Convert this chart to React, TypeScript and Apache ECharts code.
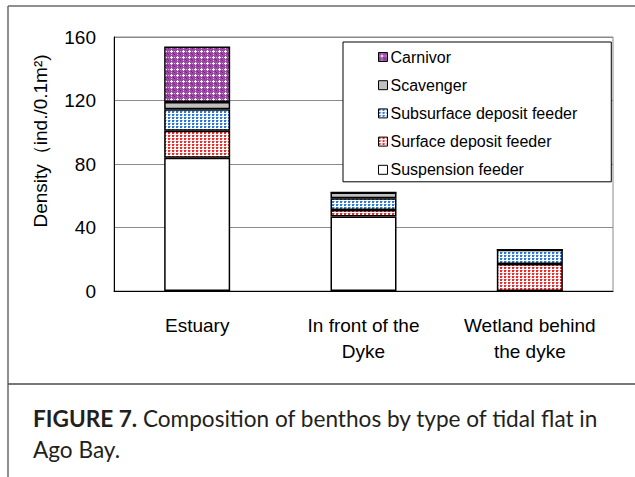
import React, { useEffect, useRef } from "react";
import * as echarts from "echarts";

const categories = ["Estuary", "In front of the\nDyke", "Wetland behind\nthe dyke"];
const suspension = [84, 47, 0];
const surface = [17, 4, 17];
const subsurface = [13.5, 7.5, 9];
const scavenger = [4.5, 3.5, 0];
const carnivor = [35, 0, 0];
const yTicks = [0, 40, 80, 120, 160];
const legendOrder = ["Carnivor", "Scavenger", "Subsurface deposit feeder", "Surface deposit feeder", "Suspension feeder"];

function makeTile(w: number, h: number, draw: (ctx: CanvasRenderingContext2D) => void) {
  const c = document.createElement("canvas");
  c.width = w;
  c.height = h;
  const ctx = c.getContext("2d")!;
  draw(ctx);
  return { image: c, repeat: "repeat", imageWidth: w, imageHeight: h } as any;
}

export default function App() {
  const ref = useRef<HTMLDivElement>(null);
  useEffect(() => {
    if (!ref.current) return;
    const chart = echarts.init(ref.current, undefined, { renderer: "svg" });

    const dotTile = (main: string, light: string) =>
      makeTile(4, 3, (ctx) => {
        ctx.fillStyle = "#ffffff";
        ctx.fillRect(0, 0, 4, 3);
        ctx.fillStyle = main;
        ctx.fillRect(0, 0, 2, 2);
        ctx.fillStyle = light;
        ctx.fillRect(2, 0, 1, 1);
      });
    const redPat = dotTile("#ee2a2a", "#f8a0a0");
    const bluePat = dotTile("#2c78d6", "#9cc0ee");
    const purplePat = makeTile(6, 6, (ctx) => {
      ctx.fillStyle = "#9a4aa2";
      ctx.fillRect(0, 0, 6, 6);
      ctx.fillStyle = "#7a1a84";
      ctx.fillRect(0, 0, 1, 1);
      ctx.fillRect(5, 5, 1, 1);
      ctx.fillStyle = "#ffffff";
      ctx.fillRect(3, 2, 1, 3);
      ctx.fillRect(2, 3, 3, 1);
      ctx.fillStyle = "#d8b0dc";
      ctx.fillRect(0, 3, 1, 1);
      ctx.fillRect(3, 0, 1, 1);
    });

    const font = "Liberation Sans";
    const mk = (name: string, data: number[], color: any) => ({
      name,
      type: "bar",
      stack: "total",
      barWidth: 66,
      data,
      itemStyle: { color, borderColor: "#000", borderWidth: 1.5 },
    });

    chart.setOption({
      animation: false,
      backgroundColor: "#ffffff",
      grid: { left: 114, right: 22, top: 37, bottom: 186, show: true, borderColor: "#8a8a8a", borderWidth: 1 },
      legend: {
        data: legendOrder,
        orient: "vertical",
        left: 343,
        top: 42,
        padding: [7, 34, 4, 35],
        backgroundColor: "#ffffff",
        borderColor: "#000",
        borderWidth: 1,
        icon: "rect",
        itemWidth: 9,
        itemHeight: 9,
        itemGap: 12.2,
        itemStyle: { borderWidth: 1, borderColor: "#000" },
        textStyle: { fontFamily: font, fontSize: 16, color: "#000", lineHeight: 15, padding: [0, 0, 0, -2] },
      },
      xAxis: {
        type: "category",
        data: categories,
        axisLine: { lineStyle: { color: "#000", width: 1 } },
        axisTick: { inside: true, length: 5, lineStyle: { color: "#000" } },
        axisLabel: { interval: 0, fontFamily: font, fontSize: 19, color: "#000", margin: 21, lineHeight: 26 },
      },
      yAxis: {
        type: "value",
        min: yTicks[0],
        max: yTicks[yTicks.length - 1],
        interval: 40,
        axisLine: { show: true, lineStyle: { color: "#000", width: 1 } },
        axisTick: { show: false },
        axisLabel: { fontFamily: font, fontSize: 19, color: "#000", margin: 18 },
        splitLine: { lineStyle: { color: "#8a8a8a", width: 1 } },
      },
      series: [
        mk("Suspension feeder", suspension, "#ffffff"),
        mk("Surface deposit feeder", surface, redPat),
        mk("Subsurface deposit feeder", subsurface, bluePat),
        mk("Scavenger", scavenger, "#c0c0c0"),
        mk("Carnivor", carnivor, purplePat),
      ],
      graphic: [
        { type: "line", shape: { x1: 8, y1: 6, x2: 635, y2: 6 }, style: { stroke: "#6a6a6a", lineWidth: 1.5 } },
        { type: "line", shape: { x1: 8, y1: 6, x2: 8, y2: 477 }, style: { stroke: "#6a6a6a", lineWidth: 1.5 } },
        { type: "line", shape: { x1: 8, y1: 384, x2: 635, y2: 384 }, style: { stroke: "#4a4a4a", lineWidth: 1.5 } },
        {
          type: "text",
          x: 40,
          y: 141,
          rotation: Math.PI / 2,
          style: {
            text: "Density（ind./0.1m²)",
            fontFamily: font,
            fontSize: 19,
            fill: "#000",
            align: "center",
            verticalAlign: "middle",
          },
        },
        {
          type: "text",
          x: 33,
          y: 403,
          style: {
            text: "{b|FIGURE 7.} Composition of benthos by type of tidal flat in\nAgo Bay.",
            fontFamily: "Lato",
            fontSize: 22.6,
            fill: "#231f20",
            lineHeight: 31,
            verticalAlign: "top",
            rich: {
              b: { fontFamily: "Lato", fontSize: 22.6, fontWeight: "bold", fill: "#231f20", lineHeight: 31 },
            },
          },
        },
      ],
    });
    return () => chart.dispose();
  }, []);
  return <div ref={ref} style={{ position: "fixed", left: 0, top: 0, width: 635, height: 477 }} />;
}
